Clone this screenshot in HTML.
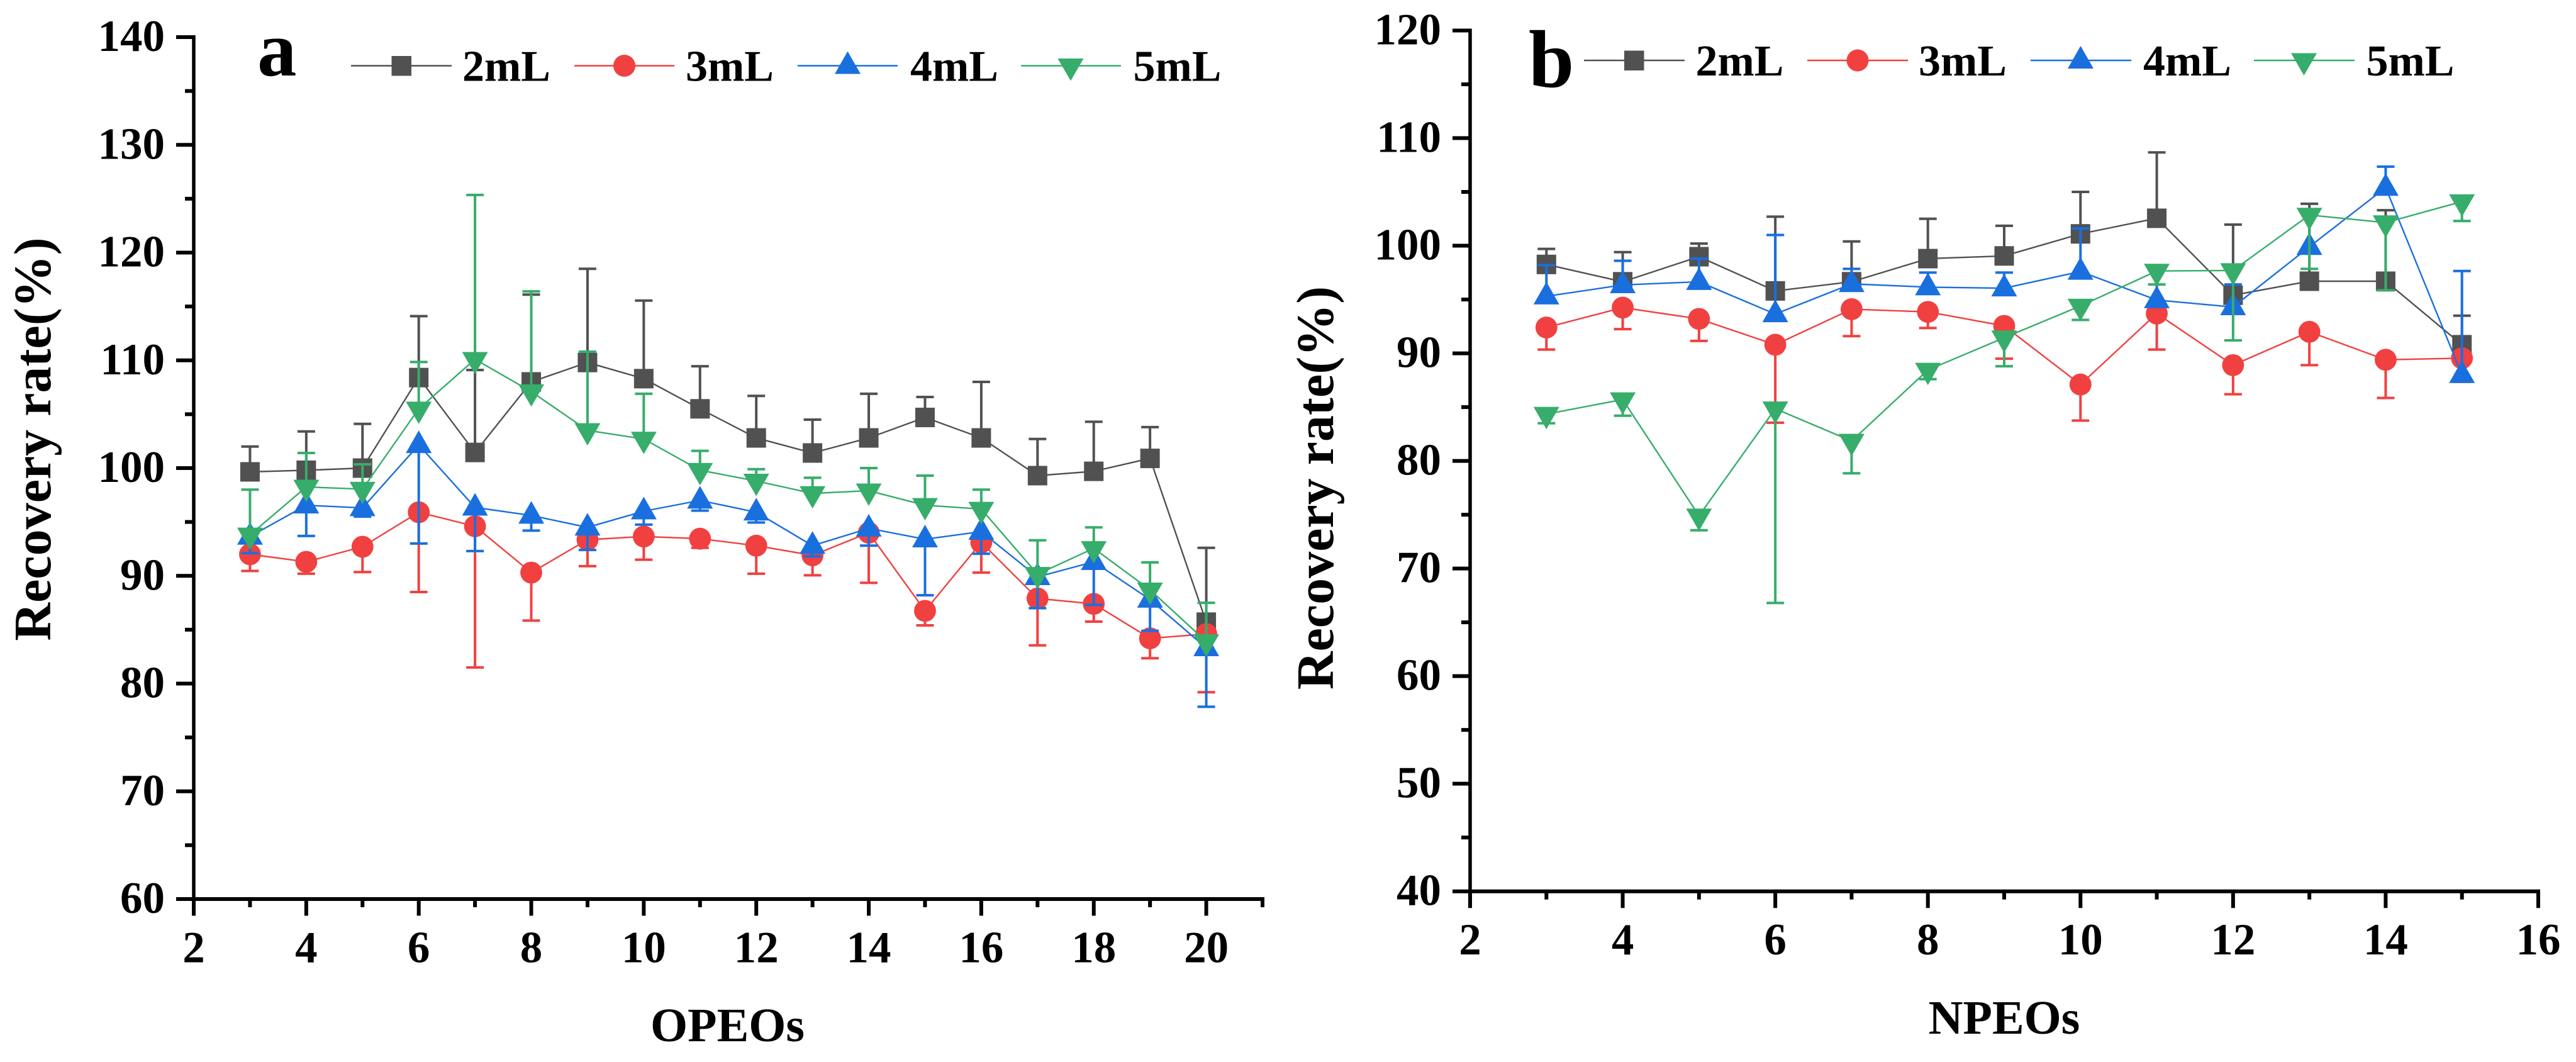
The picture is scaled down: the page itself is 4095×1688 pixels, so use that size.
<!DOCTYPE html>
<html lang="en">
<head>
<meta charset="utf-8">
<title>Recovery rate of OPEOs and NPEOs</title>
<style>
html,body{margin:0;padding:0;background:#fff;}
svg{display:block;}
text{font-family:"Liberation Serif",serif;font-weight:bold;fill:#000;}
.tick{font-size:71px;}
.leg{font-size:70px;}
.title{font-size:84px;}
.xtitle{font-size:76px;}
</style>
</head>
<body>
<svg id="chart" xmlns="http://www.w3.org/2000/svg" width="4095" height="1688" viewBox="0 0 4095 1688">
  <rect x="0" y="0" width="4095" height="1688" fill="#ffffff"/>
  <g id="panelA"></g>
  <g id="panelB"></g>

  <text x="409" y="120" font-size="125">a</text>
  <text x="2430" y="138" font-size="130">b</text>

  <text class="title" text-anchor="middle" transform="translate(80 698) rotate(-90)">Recovery rate(%)</text>
  <text class="title" text-anchor="middle" transform="translate(2119 775.5) rotate(-90)">Recovery rate(%)</text>
  <text class="xtitle" text-anchor="middle" x="1156.5" y="1655">OPEOs</text>
  <text class="xtitle" text-anchor="middle" x="3186" y="1643">NPEOs</text>

  <g>
    <g>
      <line x1="558" y1="104.5" x2="718" y2="104.5" stroke="#515151" stroke-width="2.4"/>
      <rect x="622.5" y="89" width="31.5" height="31.5" fill="#515151"/>
      <text class="leg" x="735" y="128.5">2mL</text>
    </g>
    <g>
      <line x1="913" y1="104.5" x2="1072" y2="104.5" stroke="#F14040" stroke-width="2.4"/>
      <circle cx="992.5" cy="104.5" r="17.5" fill="#F14040"/>
      <text class="leg" x="1090" y="128.5">3mL</text>
    </g>
    <g>
      <line x1="1268" y1="104.5" x2="1427" y2="104.5" stroke="#1A6FDF" stroke-width="2.4"/>
      <polygon points="1347.5,81.5 1368,117.5 1327,117.5" fill="#1A6FDF"/>
      <text class="leg" x="1447" y="128.5">4mL</text>
    </g>
    <g>
      <line x1="1623" y1="104.5" x2="1782" y2="104.5" stroke="#37AD6B" stroke-width="2.4"/>
      <polygon points="1702,128.5 1722.5,93 1681.5,93" fill="#37AD6B"/>
      <text class="leg" x="1801.5" y="128.5">5mL</text>
    </g>
  </g>

  <g>
    <g>
      <line x1="2518" y1="96" x2="2678" y2="96" stroke="#515151" stroke-width="2.4"/>
      <rect x="2582" y="80.5" width="31.5" height="31.5" fill="#515151"/>
      <text class="leg" x="2695.5" y="120">2mL</text>
    </g>
    <g>
      <line x1="2873" y1="96" x2="3033" y2="96" stroke="#F14040" stroke-width="2.4"/>
      <circle cx="2953" cy="96" r="17.5" fill="#F14040"/>
      <text class="leg" x="3050" y="120">3mL</text>
    </g>
    <g>
      <line x1="3228" y1="96" x2="3388" y2="96" stroke="#1A6FDF" stroke-width="2.4"/>
      <polygon points="3307.5,73 3328,109 3287,109" fill="#1A6FDF"/>
      <text class="leg" x="3407" y="120">4mL</text>
    </g>
    <g>
      <line x1="3583" y1="96" x2="3743" y2="96" stroke="#37AD6B" stroke-width="2.4"/>
      <polygon points="3662.5,120 3683,84.5 3642,84.5" fill="#37AD6B"/>
      <text class="leg" x="3761.5" y="120">5mL</text>
    </g>
  </g>
</svg>

<script>
// ---------- Panel a (OPEOs) data ----------
const opeoCategories = [3,4,5,6,7,8,9,10,11,12,13,14,15,16,17,18,19,20];
const opeo2mL    = [99.65,99.8,100.0,108.4,101.45,108.0,109.8,108.3,105.5,102.8,101.4,102.8,104.7,102.8,99.3,99.7,100.9,85.7];
const opeo2mLErr = [102.0,103.4,104.1,114.1,109.1,116.1,118.5,115.55,109.45,106.7,104.5,106.9,106.6,108.0,102.7,104.3,103.8,92.6];
const opeo3mL    = [92.0,91.3,92.7,95.9,94.6,90.3,93.35,93.65,93.45,92.8,91.9,94.0,86.75,93.1,87.9,87.4,84.2,84.6];
const opeo3mLErr = [90.45,90.2,90.35,88.5,81.5,85.85,90.9,91.5,92.6,90.2,90.05,89.35,85.4,90.3,83.55,85.75,82.35,79.2];
const opeo4mL    = [93.65,96.55,96.3,102.15,96.35,95.6,94.5,96.0,97.0,95.9,92.8,94.4,93.4,94.1,89.9,91.3,87.8,83.3];
const opeo4mLErr = [92.1,93.7,95.5,93.0,92.3,94.2,92.4,94.75,96.05,94.95,91.8,92.8,88.2,92.05,87.0,87.3,84.9,77.85];
const opeo5mL    = [93.8,98.25,98.05,105.5,110.1,107.1,103.5,102.7,99.8,98.8,97.65,97.9,96.55,96.2,90.15,92.55,88.7,83.9];
const opeo5mLErr = [98.0,101.4,100.35,109.85,125.35,116.4,110.8,106.9,101.6,99.9,99.1,100.0,99.3,98.0,93.3,94.5,91.25,87.5];
const opeoXTicks = [2,4,6,8,10,12,14,16,18,20];
const opeoXMinor = [3,5,7,9,11,13,15,17,19,21];
const opeoYTicks = [60,70,80,90,100,110,120,130,140];
const opeoYMinor = [65,75,85,95,105,115,125,135];

// ---------- Panel b (NPEOs) data ----------
const npeoCategories = [3,4,5,6,7,8,9,10,11,12,13,14,15];
const npeo2mL    = [98.26,96.65,98.98,95.8,96.65,98.8,99.05,101.1,102.55,95.4,96.7,96.7,90.8];
const npeo2mLErr = [99.7,99.4,100.2,102.7,100.4,102.5,101.85,105.0,108.67,101.96,103.9,103.3,93.5];
const npeo3mL    = [92.4,94.25,93.2,90.8,94.1,93.85,92.55,87.1,93.7,88.9,92.0,89.4,89.55];
const npeo3mLErr = [90.35,92.25,91.15,83.55,91.6,92.35,89.5,83.75,90.35,86.2,88.9,85.85,87.35];
const npeo4mL    = [95.3,96.35,96.65,93.65,96.45,96.15,96.05,97.6,94.95,94.3,99.9,105.4,88.0];
const npeo4mLErr = [98.2,98.6,98.8,101.0,97.85,97.5,97.5,101.6,97.9,96.4,103.0,107.35,97.65];
const npeo5mL    = [84.35,85.7,74.9,84.85,81.85,88.45,91.45,94.4,97.65,97.7,102.85,102.15,104.1];
const npeo5mLErr = [83.5,84.2,73.55,66.8,78.85,87.6,88.8,93.1,96.4,91.2,97.85,95.85,102.3];
const npeoXTicks = [2,4,6,8,10,12,14,16];
const npeoXMinor = [3,5,7,9,11,13,15];
const npeoYTicks = [40,50,60,70,80,90,100,110,120];
const npeoYMinor = [45,55,65,75,85,95,105,115];

const seriesNames = ['2mL','3mL','4mL','5mL'];
const seriesColors = ['#515151','#F14040','#1A6FDF','#37AD6B'];
const seriesShapes = ['square','circle','up','down'];

const NS = 'http://www.w3.org/2000/svg';
function mk(tag, attrs, parent) {
  const el = document.createElementNS(NS, tag);
  for (const k in attrs) el.setAttribute(k, attrs[k]);
  parent.appendChild(el);
  return el;
}

function drawPanel(root, cfg) {
  const x = v => cfg.x0 + (v - cfg.xMin) * (cfg.x1 - cfg.x0) / (cfg.xMax - cfg.xMin);
  const y = v => cfg.y0 + (v - cfg.yMin) * (cfg.y1 - cfg.y0) / (cfg.yMax - cfg.yMin);
  const tickW = 6, major = 28, minor = 14, xMajor = 26.5, xMinor = 13;

  cfg.series.forEach((s, i) => {
    const group = mk('g', {}, root);
    
    
    const color = seriesColors[i];

    const pts = cfg.categories.map((c, j) => x(c).toFixed(2) + ',' + y(s.values[j]).toFixed(2)).join(' ');
    const line = mk('polyline', {points: pts, fill: 'none', stroke: color, 'stroke-width': 2.4, 'stroke-linejoin': 'round'}, group);
    
    

    cfg.categories.forEach((c, j) => {
      const px = x(c), py = y(s.values[j]), pe = y(s.errEnd[j]);
      const bar = mk('line', {x1: px, x2: px, y1: py, y2: pe, stroke: color, 'stroke-width': 4}, group);
      
      
      const cap = mk('line', {x1: px - 14, x2: px + 14, y1: pe, y2: pe, stroke: color, 'stroke-width': 4}, group);
      
      
    });

    cfg.categories.forEach((c, j) => {
      const px = x(c), py = y(s.values[j]);
      const shape = seriesShapes[i];
      let m;
      if (shape === 'square') {
        m = mk('rect', {x: px - 15.5, y: py - 15.5, width: 31, height: 31, fill: color}, group);
      } else if (shape === 'circle') {
        m = mk('circle', {cx: px, cy: py, r: 17.4, fill: color}, group);
      } else if (shape === 'up') {
        m = mk('polygon', {points: px + ',' + (py - 23) + ' ' + (px + 20.5) + ',' + (py + 13) + ' ' + (px - 20.5) + ',' + (py + 13), fill: color}, group);
      } else {
        m = mk('polygon', {points: px + ',' + (py + 24) + ' ' + (px + 20.5) + ',' + (py - 11.5) + ' ' + (px - 20.5) + ',' + (py - 11.5), fill: color}, group);
      }
      
      
    });
  });

  const axes = mk('g', {stroke: '#000', 'stroke-width': tickW}, root);
  
  

  const yAxis = mk('line', {x1: cfg.x0, x2: cfg.x0, y1: y(cfg.yMax) - tickW / 2, y2: cfg.y0 + tickW / 2, 'stroke-width': 5.5}, axes);
  
  
  const xAxis = mk('line', {x1: cfg.x0 - tickW / 2, x2: cfg.x1 + tickW / 2, y1: cfg.y0, y2: cfg.y0}, axes);
  
  

  cfg.yTicks.forEach(v => {
    const t = mk('line', {x1: cfg.x0 - major, x2: cfg.x0, y1: y(v), y2: y(v)}, axes);
    
    
    const label = mk('text', {x: cfg.x0 - 46, y: y(v) + 22, 'text-anchor': 'end', class: 'tick'}, root);
    label.textContent = v;
    
    
  });
  cfg.yMinor.forEach(v => {
    const t = mk('line', {x1: cfg.x0 - minor, x2: cfg.x0, y1: y(v), y2: y(v)}, axes);
    
    
  });
  cfg.xTicks.forEach(v => {
    const t = mk('line', {x1: x(v), x2: x(v), y1: cfg.y0, y2: cfg.y0 + xMajor}, axes);
    
    
    const label = mk('text', {x: x(v), y: cfg.y0 + 100.5, 'text-anchor': 'middle', class: 'tick'}, root);
    label.textContent = v;
    
    
  });
  cfg.xMinor.forEach(v => {
    const t = mk('line', {x1: x(v), x2: x(v), y1: cfg.y0, y2: cfg.y0 + xMinor}, axes);
    
    
  });
}

drawPanel(document.getElementById('panelA'), {
  x0: 308, x1: 2007, xMin: 2, xMax: 21,
  y0: 1429, y1: 59, yMin: 60, yMax: 140,
  categories: opeoCategories,
  xTicks: opeoXTicks, xMinor: opeoXMinor, yTicks: opeoYTicks, yMinor: opeoYMinor,
  series: [
    {values: opeo2mL, errEnd: opeo2mLErr},
    {values: opeo3mL, errEnd: opeo3mLErr},
    {values: opeo4mL, errEnd: opeo4mLErr},
    {values: opeo5mL, errEnd: opeo5mLErr}
  ]
});

drawPanel(document.getElementById('panelB'), {
  x0: 2337, x1: 4035, xMin: 2, xMax: 16,
  y0: 1416.7, y1: 48.5, yMin: 40, yMax: 120,
  categories: npeoCategories,
  xTicks: npeoXTicks, xMinor: npeoXMinor, yTicks: npeoYTicks, yMinor: npeoYMinor,
  series: [
    {values: npeo2mL, errEnd: npeo2mLErr},
    {values: npeo3mL, errEnd: npeo3mLErr},
    {values: npeo4mL, errEnd: npeo4mLErr},
    {values: npeo5mL, errEnd: npeo5mLErr}
  ]
});
</script>
</body>
</html>
